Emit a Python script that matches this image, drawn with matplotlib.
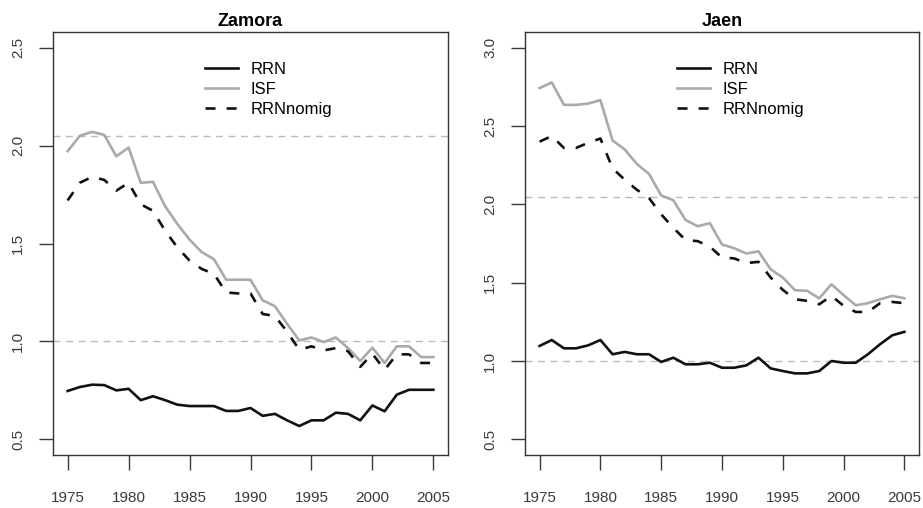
import matplotlib
matplotlib.use("Agg")
import matplotlib.pyplot as plt

# ---- data ----
years = list(range(1975, 2006))

zamora_rrn = [0.747, 0.767, 0.779, 0.777, 0.75, 0.758, 0.70, 0.72, 0.70, 0.677,
              0.67, 0.67, 0.67, 0.645, 0.645, 0.66, 0.62, 0.63, 0.597, 0.568,
              0.597, 0.597, 0.636, 0.63, 0.597, 0.673, 0.643, 0.728, 0.753, 0.753,
              0.753]
zamora_isf = [1.971, 2.05, 2.07, 2.055, 1.945, 1.99, 1.81, 1.815, 1.69, 1.60,
              1.52, 1.456, 1.42, 1.315, 1.315, 1.315, 1.21, 1.18, 1.09, 1.005,
              1.02, 0.997, 1.02, 0.966, 0.90, 0.968, 0.89, 0.975, 0.975, 0.92,
              0.92]
zamora_nomig = [1.72, 1.81, 1.84, 1.825, 1.77, 1.81, 1.70, 1.667, 1.565, 1.48,
                1.413, 1.37, 1.345, 1.25, 1.245, 1.245, 1.14, 1.13, 1.05, 0.957,
                0.975, 0.954, 0.966, 0.95, 0.87, 0.937, 0.855, 0.934, 0.934, 0.89,
                0.89]

jaen_rrn = [1.096, 1.134, 1.081, 1.081, 1.10, 1.134, 1.043, 1.058, 1.043, 1.043,
            0.994, 1.021, 0.979, 0.979, 0.989, 0.957, 0.957, 0.972, 1.021, 0.953,
            0.936, 0.921, 0.921, 0.936, 1.0, 0.989, 0.989, 1.043, 1.107, 1.164,
            1.186]
jaen_isf = [2.742, 2.778, 2.635, 2.635, 2.643, 2.665, 2.408, 2.35, 2.258, 2.194,
            2.057, 2.026, 1.90, 1.86, 1.88, 1.744, 1.72, 1.686, 1.70, 1.585,
            1.533, 1.452, 1.448, 1.40, 1.49, 1.42, 1.356, 1.369, 1.394, 1.416,
            1.40]
jaen_nomig = [2.40, 2.436, 2.36, 2.36, 2.393, 2.42, 2.23, 2.157, 2.093, 2.04,
              1.936, 1.85, 1.772, 1.765, 1.73, 1.66, 1.655, 1.625, 1.633, 1.533,
              1.454, 1.394, 1.384, 1.362, 1.416, 1.352, 1.313, 1.313, 1.369, 1.377,
              1.369]

xticks = [1975, 1980, 1985, 1990, 1995, 2000, 2005]
ref_levels = [2.05, 1.0]

plt.rcParams['font.family'] = ['Liberation Sans', 'DejaVu Sans']
TXT = '#3a3a3a'


def r_range(lo, hi):
    # R style 4% expansion
    d = (hi - lo) * 0.04
    return lo - d, hi + d


def panel(ax, title, rrn, isf, nomig, ylo, yhi, yticks):
    for h in ref_levels:
        ax.axhline(h, color='#bbbbbb', lw=1.0, dashes=(5, 4))
    ax.plot(years, rrn, color='#111111', lw=1.9, label='RRN')
    ax.plot(years, isf, color='#aaaaaa', lw=1.9, label='ISF')
    ax.plot(years, nomig, color='#111111', lw=1.9, dashes=(3.8, 4.2), label='RRNnomig')

    ax.set_xlim(*r_range(1975, 2005))
    ax.set_ylim(*r_range(ylo, yhi))
    ax.set_xticks(xticks)
    ax.set_yticks(yticks)
    ax.set_yticklabels([f"{v:.1f}" for v in yticks], rotation=90, va='center')
    ax.tick_params(axis='x', length=11, pad=15, labelsize=11, colors=TXT, width=1)
    ax.tick_params(axis='y', length=10, pad=10, labelsize=11, colors=TXT, width=1)
    for s in ax.spines.values():
        s.set_color('#333333')
        s.set_linewidth(1.0)
    ax.set_title(title, fontsize=13, fontweight='bold', pad=4)
    ax.legend(loc='upper left', bbox_to_anchor=(0.385, 0.93), frameon=False,
              fontsize=12, handlelength=2.0, handletextpad=0.75,
              labelspacing=0.3, borderpad=0, borderaxespad=0)


fig = plt.figure(figsize=(9.23, 5.08), dpi=100)
ax1 = fig.add_axes([53 / 923, 53 / 508, 395 / 923, 423 / 508])
ax2 = fig.add_axes([525 / 923, 53 / 508, 394 / 923, 423 / 508])

panel(ax1, 'Zamora', zamora_rrn, zamora_isf, zamora_nomig, 0.5, 2.5,
      [0.5, 1.0, 1.5, 2.0, 2.5])
panel(ax2, 'Jaen', jaen_rrn, jaen_isf, jaen_nomig, 0.5, 3.0,
      [0.5, 1.0, 1.5, 2.0, 2.5, 3.0])

fig.savefig('out.png', dpi=100)
